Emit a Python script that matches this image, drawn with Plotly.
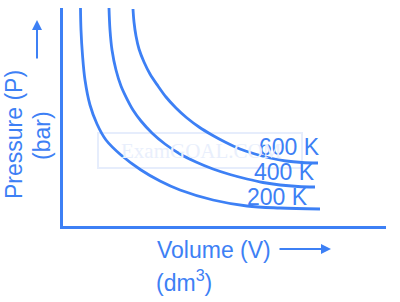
import plotly.graph_objects as go

# Isotherm data (volume, pressure) in arbitrary chart units
v_200 = [17.5, 18, 19.5, 22, 27, 34, 43, 58, 78, 97, 117, 150, 184, 217, 257]
p_200 = [218, 196, 171, 146, 121, 102, 86, 71, 56, 45, 36, 26, 20, 18, 17]

v_400 = [46, 47, 49, 53, 58, 64, 70, 78, 89, 102, 117, 133, 150, 167, 184, 200, 217, 235, 252]
p_400 = [218, 196, 176, 156, 140, 127, 116, 105, 93, 82, 72, 64, 57, 51.5, 47, 43.5, 41, 39.5, 39]

v_600 = [70, 71, 73, 76, 81, 87, 95, 103, 113, 124, 136, 149, 162, 177, 192, 207, 223, 239, 255]
p_600 = [217, 204, 190, 177, 164, 152, 140, 129, 118, 108, 99, 91, 84, 77, 72, 68, 65, 63.5, 63]

series_names = ["200 K", "400 K", "600 K"]

BLUE = "#3d80f5"
FONT = "Liberation Sans, Arial, sans-serif"
W, H = 400, 302
L, R, T, B = 63, 14, 8, 76
PW, PH = W - L - R, H - T - B


def px(x):
    return (x - L) / PW


def py(y):
    return (H - B - y) / PH


fig = go.Figure()
for v, p, name in [(v_200, p_200, series_names[0]),
                   (v_400, p_400, series_names[1]),
                   (v_600, p_600, series_names[2])]:
    fig.add_trace(go.Scatter(x=v, y=p, mode="lines", name=name,
                             line=dict(color=BLUE, width=2.8, shape="spline", smoothing=1.0),
                             hoverinfo="skip"))

ann = []
# curve labels
for name, xl, yc in [("600 K", 257, 147), ("400 K", 252, 172), ("200 K", 245, 197)]:
    ann.append(dict(text=name, x=px(xl), y=py(yc), xref="paper", yref="paper",
                    xanchor="left", yanchor="middle", showarrow=False,
                    font=dict(family=FONT, size=23, color=BLUE)))
# axis titles
ann.append(dict(text="Pressure (P)", x=px(14), y=py(135), xref="paper", yref="paper",
                textangle=-90, showarrow=False, xanchor="center", yanchor="middle",
                font=dict(family=FONT, size=23, color=BLUE)))
ann.append(dict(text="(bar)", x=px(42), y=py(136), xref="paper", yref="paper",
                textangle=-90, showarrow=False, xanchor="center", yanchor="middle",
                font=dict(family=FONT, size=23, color=BLUE)))
ann.append(dict(text="Volume (V)", x=px(155), y=py(250), xref="paper", yref="paper",
                showarrow=False, xanchor="left", yanchor="middle",
                font=dict(family=FONT, size=23, color=BLUE)))
ann.append(dict(text="(dm<sup>3</sup>)", x=px(154), y=py(281), xref="paper", yref="paper",
                showarrow=False, xanchor="left", yanchor="middle",
                font=dict(family=FONT, size=23, color=BLUE)))
# arrows
ann.append(dict(text="", x=px(37), y=py(20), xref="paper", yref="paper",
                showarrow=True, ax=0, ay=40, arrowhead=2, arrowsize=1,
                arrowwidth=2, arrowcolor=BLUE))
ann.append(dict(text="", x=px(331), y=py(249), xref="paper", yref="paper",
                showarrow=True, ax=-53, ay=0, arrowhead=2, arrowsize=1,
                arrowwidth=2, arrowcolor=BLUE))
# faint watermark
ann.append(dict(text="ExamGOAL.COM", x=px(201), y=py(151), xref="paper", yref="paper",
                showarrow=False, xanchor="center", yanchor="middle",
                font=dict(family="Liberation Serif, serif", size=21, color="#e9effc")))

shapes = [dict(type="rect", xref="paper", yref="paper",
               x0=px(98), x1=px(302), y0=py(168), y1=py(133),
               line=dict(color="#e6edfc", width=2), fillcolor="rgba(0,0,0,0)", layer="below")]

fig.update_layout(
    width=W, height=H,
    margin=dict(l=L, r=R, t=T, b=B, pad=0),
    paper_bgcolor="white", plot_bgcolor="white",
    showlegend=False,
    annotations=ann,
    shapes=shapes,
    xaxis=dict(range=[0, PW], showgrid=False, zeroline=False, showticklabels=False,
               ticks="", showline=True, linecolor=BLUE, linewidth=2.5, fixedrange=True),
    yaxis=dict(range=[0, PH], showgrid=False, zeroline=False, showticklabels=False,
               ticks="", showline=True, linecolor=BLUE, linewidth=2.5, fixedrange=True),
)

fig.write_html("out.html", config={"displayModeBar": False})
